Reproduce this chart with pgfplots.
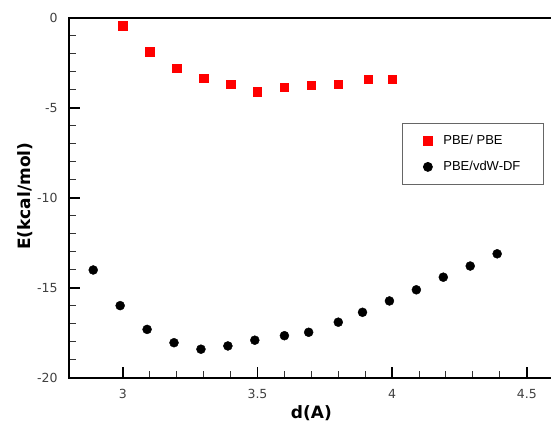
\documentclass[border=0pt]{standalone}
\usepackage{fontspec}
\setmainfont{DejaVu Sans}
\newfontfamily\legfont{Liberation Sans}
\usepackage{pgfplots}
\pgfplotsset{compat=1.18}
\begin{document}
\begin{tikzpicture}
\begin{axis}[
  name=ax,
  scale only axis, width=484.7pt, height=360pt,
  xmin=2.8, xmax=4.6, ymin=-20, ymax=0,
  axis line style={line width=1.4pt},
  xtick pos=bottom, ytick pos=left,
  xtick={3,3.5,4,4.5}, minor x tick num=4,
  ytick={-20,-15,-10,-5,0}, minor y tick num=4,
  major tick length=11pt, minor tick length=7pt,
  major tick style={line width=1.6pt, draw=black},
  minor tick style={line width=1pt, draw=black!80},
  /pgf/number format/assume math mode=true,
  ticklabel style={font=\fontsize{12.5}{14}\selectfont, text=black!75},
  xticklabel style={yshift=-8pt},
  yticklabel style={xshift=-8pt},
  xlabel={d(A)}, ylabel={E(kcal/mol)},
  label style={font=\fontsize{17}{20}\selectfont\bfseries},
  xlabel style={at={(axis description cs:0.5,-0.097)}, anchor=center},
  ylabel style={at={(axis description cs:-0.0913,0.505)}, anchor=center},
  legend cell align=left,
  legend style={at={(axis description cs:0.687,0.708)}, anchor=north west,
    draw=black!60, line width=0.8pt, font=\legfont\fontsize{13}{15}\selectfont,
    inner xsep=21pt, inner ysep=10pt, row sep=11pt, column sep=9pt,
    nodes={inner sep=2pt, anchor=west}},
  tick align=inside,
]
\addplot[only marks, mark=square*, mark size=4.2pt, color=red, fill=red] coordinates {
  (3.0,-0.43) (3.1,-1.87) (3.2,-2.80) (3.3,-3.35) (3.4,-3.67) (3.5,-4.10)
  (3.6,-3.85) (3.7,-3.72) (3.8,-3.68) (3.91,-3.40) (4.0,-3.40)
};
\addlegendentry{PBE/ PBE}
\addplot[only marks, mark=*, mark size=4.5pt, color=black, fill=black] coordinates {
  (2.89,-14.00) (2.99,-15.98) (3.09,-17.30) (3.19,-18.04) (3.29,-18.40)
  (3.39,-18.22) (3.49,-17.90) (3.60,-17.65) (3.69,-17.46) (3.80,-16.90)
  (3.89,-16.35) (3.99,-15.72) (4.09,-15.10) (4.19,-14.40) (4.29,-13.78)
  (4.39,-13.10)
};
\addlegendentry{PBE/vdW-DF}
\end{axis}
\pgfresetboundingbox
\path[use as bounding box] ([shift={(-69pt,-46pt)}]ax.south west) rectangle ([shift={(-2.7pt,18pt)}]ax.north east);
\end{tikzpicture}
\end{document}
